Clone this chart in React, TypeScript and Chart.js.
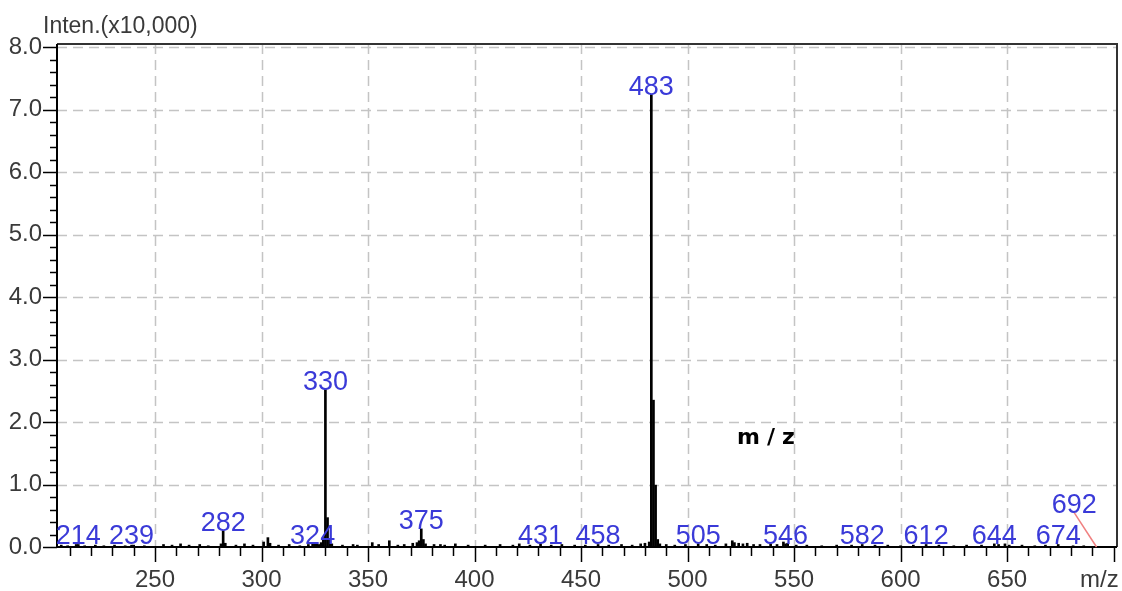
import React, { useEffect, useRef } from "react";
import { Chart, registerables } from "chart.js";

Chart.register(...registerables);

// ---- Data ----
const mzValues = [
  206, 209, 213, 214, 217, 222, 226, 231, 236, 239, 240, 245, 254, 258, 262, 266, 271, 275,
  281, 282, 283, 288, 292, 296, 301, 303, 304, 308, 313, 318, 322, 324, 325, 326, 327, 328,
  329, 330, 331, 332, 333, 338, 343, 345, 352, 355, 360, 364, 367, 371, 373, 374, 375, 376,
  377, 381, 384, 386, 391, 397, 405, 412, 418, 421, 426, 431, 436, 441, 447, 452, 458, 463,
  469, 474, 478, 480, 482, 483, 484, 485, 486, 487, 490, 494, 499, 505, 509, 513, 518, 521,
  522, 524, 526, 528, 531, 534, 539, 542, 545, 546, 547, 551, 556, 563, 570, 577, 582, 588,
  594, 600, 606, 612, 618, 625, 631, 638, 644, 646, 649, 651, 657, 663, 668, 674, 681, 686,
  692,
];
const intensities = [
  0.03, 0.02, 0.04, 0.04, 0.02, 0.03, 0.02, 0.03, 0.02, 0.03, 0.03, 0.02, 0.04, 0.03, 0.05, 0.03, 0.04, 0.02,
  0.05, 0.26, 0.06, 0.03, 0.05, 0.03, 0.08, 0.15, 0.06, 0.03, 0.04, 0.02, 0.04, 0.05, 0.06, 0.05, 0.04, 0.07,
  0.15, 2.52, 0.47, 0.12, 0.05, 0.03, 0.04, 0.03, 0.07, 0.04, 0.1, 0.03, 0.04, 0.06, 0.07, 0.1, 0.29, 0.12,
  0.05, 0.04, 0.04, 0.03, 0.05, 0.03, 0.03, 0.04, 0.03, 0.05, 0.03, 0.05, 0.03, 0.04, 0.03, 0.03, 0.04, 0.03,
  0.04, 0.03, 0.05, 0.06, 0.08, 7.24, 2.35, 0.99, 0.12, 0.05, 0.04, 0.03, 0.04, 0.05, 0.04, 0.03, 0.05, 0.1,
  0.07, 0.06, 0.05, 0.06, 0.04, 0.04, 0.05, 0.04, 0.08, 0.05, 0.06, 0.03, 0.03, 0.02, 0.03, 0.03, 0.04, 0.03,
  0.03, 0.02, 0.03, 0.04, 0.03, 0.02, 0.03, 0.03, 0.05, 0.04, 0.05, 0.03, 0.03, 0.02, 0.03, 0.04, 0.02, 0.02,
  0.01,
];
const labeledPeaks = [214, 239, 282, 324, 330, 375, 431, 458, 483, 505, 546, 582, 612, 644, 674];
const leaderPeak = 692;
const leaderTextMz = 681.5;
const leaderTextIntensity = 0.55;
const xMajorTicks = [250, 300, 350, 400, 450, 500, 550, 600, 650];
const yMajorTicks = [0, 1, 2, 3, 4, 5, 6, 7, 8];
const xRange = [204, 701.6];
const yRange = [0, 8.05];
const yTitle = "Inten.(x10,000)";
const xTitle = "m/z";
const floatingText = "m/z";

const LABEL_BLUE = "#3a3ad8";
const AXIS_TEXT = "#3a3a3a";

const overlayPlugin = {
  id: "overlay",
  beforeDatasetsDraw(chart: any) {
    const { ctx, chartArea: a, scales } = chart;
    const xs = scales.x;
    const ys = scales.y;
    ctx.save();
    ctx.strokeStyle = "#c4c4c4";
    ctx.lineWidth = 1.5;
    ctx.setLineDash([10, 6]);
    xMajorTicks.forEach((v) => {
      const px = Math.round(xs.getPixelForValue(v)) + 0.5;
      ctx.beginPath();
      ctx.moveTo(px, a.top);
      ctx.lineTo(px, a.bottom);
      ctx.stroke();
    });
    yMajorTicks.forEach((v) => {
      if (v === 0) return;
      const py = Math.round(ys.getPixelForValue(v)) + 0.5;
      ctx.beginPath();
      ctx.moveTo(a.left, py);
      ctx.lineTo(a.right, py);
      ctx.stroke();
    });
    ctx.restore();
  },
  afterDatasetsDraw(chart: any) {
    const { ctx, chartArea: a, scales } = chart;
    const xs = scales.x;
    const ys = scales.y;
    ctx.save();
    // frame
    ctx.setLineDash([]);
    ctx.strokeStyle = "#333";
    ctx.lineWidth = 2;
    ctx.beginPath();
    ctx.moveTo(a.left, a.top);
    ctx.lineTo(a.right, a.top);
    ctx.lineTo(a.right, a.bottom);
    ctx.stroke();
    ctx.strokeStyle = "#000";
    ctx.beginPath();
    ctx.moveTo(a.left, a.top);
    ctx.lineTo(a.left, a.bottom);
    ctx.lineTo(a.right, a.bottom);
    ctx.stroke();

    // x ticks
    ctx.lineWidth = 1.5;
    for (let v = 210; v <= xRange[1]; v += 10) {
      const px = Math.round(xs.getPixelForValue(v)) + 0.5;
      const major = v % 50 === 0;
      ctx.beginPath();
      ctx.moveTo(px, a.bottom);
      ctx.lineTo(px, a.bottom + (major ? 15 : 9));
      ctx.stroke();
    }
    // y ticks
    for (let i = 0; i <= 40; i++) {
      const v = i * 0.2;
      const py = Math.round(ys.getPixelForValue(v)) + 0.5;
      const major = i % 5 === 0;
      ctx.beginPath();
      ctx.moveTo(a.left, py);
      ctx.lineTo(a.left - (major ? 14 : 7), py);
      ctx.stroke();
    }

    // peak labels
    const drawLabel = (text: string, cx: number, bottom: number) => {
      ctx.save();
      ctx.font = "27px 'Liberation Sans', Arial, sans-serif";
      ctx.fillStyle = LABEL_BLUE;
      ctx.textAlign = "center";
      ctx.textBaseline = "alphabetic";
      ctx.fillText(text, cx, bottom);
      ctx.restore();
    };
    labeledPeaks.forEach((mz) => {
      const idx = mzValues.indexOf(mz);
      const val = idx >= 0 ? intensities[idx] : 0;
      const cx = xs.getPixelForValue(mz);
      const py = Math.min(ys.getPixelForValue(val), a.bottom - 3);
      drawLabel(String(mz), cx, py);
    });
    // leader label
    {
      const tx = xs.getPixelForValue(leaderTextMz);
      const ty = ys.getPixelForValue(leaderTextIntensity);
      const px = xs.getPixelForValue(leaderPeak);
      ctx.strokeStyle = "#f08080";
      ctx.lineWidth = 1.5;
      ctx.beginPath();
      ctx.moveTo(tx, ty);
      ctx.lineTo(px, a.bottom);
      ctx.stroke();
      drawLabel(String(leaderPeak), tx, ty);
    }

    // titles
    ctx.fillStyle = AXIS_TEXT;
    ctx.font = "23px 'Liberation Sans', Arial, sans-serif";
    ctx.textAlign = "left";
    ctx.textBaseline = "alphabetic";
    ctx.fillText(yTitle, 43, 33);
    ctx.font = "24px 'Liberation Sans', Arial, sans-serif";
    ctx.fillText(xTitle, 1080, 587);

    // floating bold text
    ctx.fillStyle = "#000";
    ctx.font = "bold 22px 'DejaVu Sans', sans-serif";
    (ctx as any).letterSpacing = "7px";
    const w = ctx.measureText(floatingText).width - 7;
    ctx.fillText(floatingText, 766 - w / 2, 444);
    ctx.restore();
  },
};

export default function App() {
  const ref = useRef<HTMLCanvasElement | null>(null);
  useEffect(() => {
    if (!ref.current) return;
    const chart = new Chart(ref.current, {
      type: "bar",
      data: {
        datasets: [
          {
            data: mzValues.map((m, i) => ({ x: m, y: intensities[i] })),
            backgroundColor: "#000",
            borderWidth: 0,
            barThickness: 2,
          } as any,
        ],
      },
      options: {
        animation: false,
        responsive: false,
        maintainAspectRatio: false,
        events: [],
        layout: { padding: { top: 44, right: 5, left: 0, bottom: 0 } },
        plugins: { legend: { display: false }, tooltip: { enabled: false }, title: { display: false } },
        scales: {
          x: {
            type: "linear",
            min: xRange[0],
            max: xRange[1],
            offset: false,
            grid: { display: false, drawTicks: false },
            border: { display: false },
            afterFit: (s: any) => {
              s.height = 44;
              s.paddingLeft = 0;
              s.paddingRight = 0;
            },
            afterBuildTicks: (s: any) => { s.ticks = xMajorTicks.map((v) => ({ value: v })); },
            ticks: {
              autoSkip: false,
              maxRotation: 0,
              padding: 19,
              color: AXIS_TEXT,
              font: { family: "'Liberation Sans', Arial, sans-serif", size: 24 },
              callback: (v: any) => String(v),
            },
          },
          y: {
            type: "linear",
            min: yRange[0],
            max: yRange[1],
            grid: { display: false, drawTicks: false },
            border: { display: false },
            afterFit: (s: any) => {
              s.width = 57;
              s.paddingTop = 0;
              s.paddingBottom = 0;
            },
            afterBuildTicks: (s: any) => { s.ticks = yMajorTicks.map((v) => ({ value: v })); },
            ticks: {
              autoSkip: false,
              padding: 15,
              color: AXIS_TEXT,
              font: { family: "'Liberation Sans', Arial, sans-serif", size: 24 },
              callback: (v: any) => Number(v).toFixed(1),
            },
          },
        },
      },
      plugins: [overlayPlugin],
    });
    return () => chart.destroy();
  }, []);
  return (
    <div style={{ position: "fixed", left: 0, top: 0, width: 1122, height: 591, background: "#fff" }}>
      <canvas ref={ref} width={1122} height={591} style={{ width: 1122, height: 591, display: "block" }} />
    </div>
  );
}
